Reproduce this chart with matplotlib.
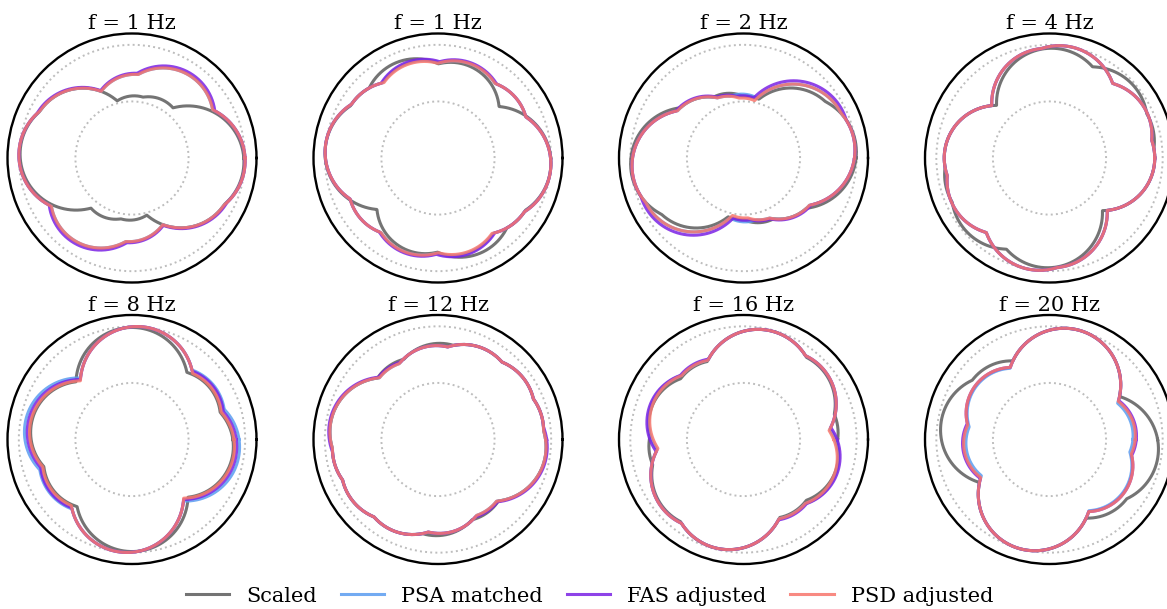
import numpy as np
import matplotlib.pyplot as plt

freqs = [1, 1, 2, 4, 8, 12, 16, 20]
labels = ['Scaled', 'PSA matched', 'FAS adjusted', 'PSD adjusted']
colors = ['#656565', '#5a9cf0', '#7a22e4', '#f7766c']

# peak responses for each panel: (amplitude, azimuth in deg), normalised
scaled_peaks = [
    [(0.99, -4), (0.92, 160), (0.58, 60), (0.55, 86)],
    [(1.00, -5), (0.92, 115), (0.86, 75), (0.90, 150)],
    [(1.00, 6), (0.90, 22), (0.55, 88), (0.60, 115), (0.72, 150)],
    [(0.97, 88), (0.98, 40), (0.93, 0), (0.95, 18)],
    [(0.99, 90), (0.90, 172), (0.83, 28)],
    [(0.96, -8), (0.94, 10), (0.93, 33), (0.90, 60), (0.85, 88), (0.78, 122)],
    [(0.99, 75), (0.93, 42), (0.86, -18), (0.84, 8), (0.78, 128)],
    [(1.00, 75), (0.97, 170), (0.86, 142)],
]
psa_peaks = [
    [(1.00, -3), (0.92, 160), (0.89, 52), (0.74, 86)],
    [(1.00, -6), (0.87, 35), (0.88, 72), (0.88, 106), (0.90, 150)],
    [(0.99, 8), (0.95, 22), (0.565, 93), (0.58, 118), (0.72, 150)],
    [(1.00, 80), (0.97, 93), (0.93, 0), (0.95, 25)],
    [(1.00, 85), (0.955, 172), (0.87, 28)],
    [(0.96, -8), (0.94, 10), (0.93, 33), (0.90, 60), (0.83, 92), (0.76, 125)],
    [(0.99, 75), (0.94, 42), (0.87, -21), (0.79, 128)],
    [(1.00, 75), (0.80, -35), (0.74, 5)],
]
fas_peaks = [
    [(1.00, -3), (0.93, 160), (0.91, 52), (0.75, 86)],
    [(1.00, -6), (0.87, 35), (0.89, 72), (0.89, 106), (0.90, 150)],
    [(0.99, 8), (0.97, 24), (0.55, 92), (0.59, 118), (0.73, 150)],
    [(1.00, 80), (0.97, 93), (0.93, 0), (0.95, 25)],
    [(1.00, 85), (0.93, 172), (0.86, 28)],
    [(0.97, -8), (0.94, 10), (0.93, 33), (0.90, 60), (0.83, 92), (0.77, 125)],
    [(0.99, 75), (0.94, 42), (0.88, -20), (0.80, 128)],
    [(1.00, 75), (0.81, -35), (0.77, 5)],
]
psd_peaks = [
    [(1.00, -3), (0.92, 160), (0.89, 52), (0.74, 86)],
    [(1.00, -6), (0.87, 35), (0.88, 72), (0.87, 106), (0.90, 150)],
    [(0.99, 8), (0.95, 22), (0.53, 92), (0.58, 118), (0.72, 150)],
    [(1.00, 80), (0.97, 93), (0.93, 0), (0.95, 25)],
    [(1.00, 85), (0.91, 172), (0.84, 28)],
    [(0.96, -8), (0.94, 10), (0.93, 33), (0.90, 60), (0.83, 92), (0.76, 125)],
    [(0.99, 75), (0.94, 42), (0.86, -22), (0.79, 128)],
    [(1.00, 75), (0.81, -35), (0.76, 5)],
]

theta = np.linspace(0, 2 * np.pi, 1441)


def rotd(peaks):
    # max over peaks of the response projected on each rotation angle
    amp = np.array([p[0] for p in peaks])
    az = np.radians([p[1] for p in peaks])
    return np.max(amp[:, None] * np.abs(np.cos(theta[None, :] - az[:, None])), axis=0)


W, H = 1167, 609
fig = plt.figure(figsize=(W / 100, H / 100), dpi=100)
cx = [132, 438, 743.5, 1049.5]
cy = [158, 439.5]
R = 124.5

all_peaks = [scaled_peaks, psa_peaks, fas_peaks, psd_peaks]
alphas = [0.9, 0.85, 0.85, 0.85]

for i, f in enumerate(freqs):
    row, col = divmod(i, 4)
    ax = fig.add_axes([(cx[col] - R) / W, (H - cy[row] - R) / H, 2 * R / W, 2 * R / H],
                      projection='polar')
    for peaks, c, a, lab in zip(all_peaks, colors, alphas, labels):
        ax.plot(theta, rotd(peaks[i]), color=c, lw=2.2, alpha=a, label=lab)
    ax.set_ylim(0, 1.1)
    ax.set_yticks([0.5, 1.0])
    ax.set_yticklabels([])
    ax.set_xticks([])
    ax.yaxis.grid(True, ls=':', color='#bdbdbd', lw=1.4)
    ax.spines['polar'].set_linewidth(1.7)
    ax.set_title(f'f = {f} Hz', fontsize=15, family='DejaVu Serif', pad=3)
    if i == 0:
        handles, labs = ax.get_legend_handles_labels()

fig.legend(handles, labs, loc='center', ncol=4, bbox_to_anchor=(0.505, 0.021),
           frameon=False, prop={'family': 'DejaVu Serif', 'size': 15},
           handlelength=2.1, handletextpad=0.8, columnspacing=1.15)

fig.savefig('out.png', dpi=100)
